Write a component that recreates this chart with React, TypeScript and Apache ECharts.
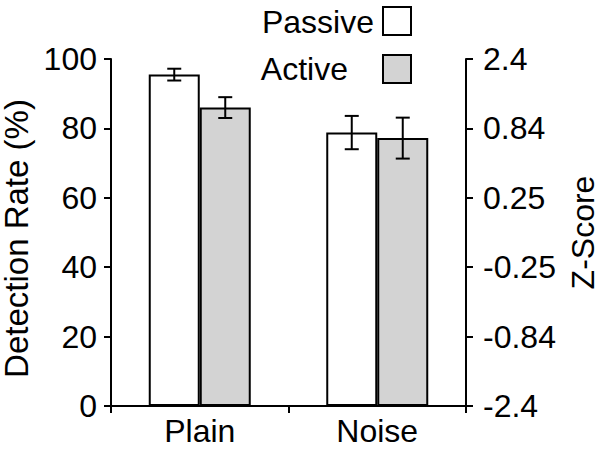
import React, { useEffect, useRef } from "react";
import * as echarts from "echarts";

const categories = ["Plain", "Noise"];
const seriesNames = ["Passive", "Active"];
const passiveValues = [95.5, 78.8];
const activeValues = [86.0, 77.2];
const passiveErrors = [1.7, 4.8];
const activeErrors = [3.0, 5.9];
const zScoreLabels = ["-2.4", "-0.84", "-0.25", "0.25", "0.84", "2.4"];

const FONT = "Liberation Sans, Arial, sans-serif";
const BAR_W = 51;
const FS = 32;

export default function App() {
  const ref = useRef<HTMLDivElement>(null);
  useEffect(() => {
    document.body.style.margin = "0";
    if (!ref.current) return;
    const chart = echarts.init(ref.current, undefined, { renderer: "svg" });

    const errData = (vals: number[], errs: number[], side: number) =>
      vals.map((v, i) => [i, v - errs[i], v + errs[i], side]);

    const renderErr = (params: any, api: any) => {
      const idx = api.value(0);
      const lo = api.value(1);
      const hi = api.value(2);
      const side = api.value(3);
      const pLo = api.coord([idx, lo]);
      const pHi = api.coord([idx, hi]);
      const x = pLo[0] + side * (BAR_W / 2);
      const cap = 7;
      const style = { stroke: "#000", lineWidth: 2 };
      return {
        type: "group",
        children: [
          { type: "line", shape: { x1: x, y1: pLo[1], x2: x, y2: pHi[1] }, style },
          { type: "line", shape: { x1: x - cap, y1: pLo[1], x2: x + cap, y2: pLo[1] }, style },
          { type: "line", shape: { x1: x - cap, y1: pHi[1], x2: x + cap, y2: pHi[1] }, style },
        ],
      };
    };

    const axisLine = { show: true, lineStyle: { color: "#000", width: 2 } };
    const axisTick = { show: true, length: 7, lineStyle: { color: "#000", width: 2 } };

    chart.setOption({
      animation: false,
      backgroundColor: "#fff",
      textStyle: { fontFamily: FONT },
      grid: {
        left: 111,
        right: 136,
        top: 59,
        bottom: 46,
        containLabel: false,
        outerBoundsMode: "none",
      },
      xAxis: {
        type: "category",
        data: categories,
        boundaryGap: true,
        axisLine,
        axisTick: { ...axisTick, alignWithLabel: false },
        axisLabel: { color: "#000", fontSize: FS, fontFamily: FONT, margin: 9 },
        splitLine: { show: false },
      },
      yAxis: [
        {
          type: "value",
          min: 0,
          max: 100,
          interval: 20,
          position: "left",
          name: "Detection Rate (%)",
          nameLocation: "middle",
          nameGap: 65,
          nameTextStyle: {
            color: "#000",
            fontSize: 33,
            fontFamily: FONT,
            padding: [0, 12, 0, 0],
          },
          axisLine,
          axisTick,
          axisLabel: { color: "#000", fontSize: FS, fontFamily: FONT, margin: 14 },
          splitLine: { show: false },
        },
        {
          type: "value",
          min: 0,
          max: 100,
          interval: 20,
          position: "right",
          name: "Z-Score",
          nameLocation: "middle",
          nameGap: 101,
          nameTextStyle: { color: "#000", fontSize: FS, fontFamily: FONT },
          axisLine,
          axisTick,
          axisLabel: {
            color: "#000",
            fontSize: FS,
            fontFamily: FONT,
            margin: 17,
            formatter: (v: number) => zScoreLabels[Math.round(v / 20)] ?? "",
          },
          splitLine: { show: false },
        },
      ],
      graphic: [
        {
          type: "text",
          x: 374,
          y: 22,
          style: {
            text: seriesNames[0],
            fontSize: FS,
            fontFamily: FONT,
            fill: "#000",
            textAlign: "right",
            textVerticalAlign: "middle",
          },
        },
        {
          type: "rect",
          x: 383,
          y: 7,
          shape: { x: 0, y: 0, width: 28, height: 28 },
          style: { fill: "#ffffff", stroke: "#000", lineWidth: 2 },
        },
        {
          type: "text",
          x: 348,
          y: 69,
          style: {
            text: seriesNames[1],
            fontSize: FS,
            fontFamily: FONT,
            fill: "#000",
            textAlign: "right",
            textVerticalAlign: "middle",
          },
        },
        {
          type: "rect",
          x: 383,
          y: 55,
          shape: { x: 0, y: 0, width: 28, height: 28 },
          style: { fill: "#d3d3d3", stroke: "#000", lineWidth: 2 },
        },
      ],
      series: [
        {
          name: seriesNames[0],
          type: "bar",
          data: passiveValues,
          barWidth: BAR_W,
          barGap: "0%",
          itemStyle: { color: "#ffffff", borderColor: "#000", borderWidth: 2 },
        },
        {
          name: seriesNames[1],
          type: "bar",
          data: activeValues,
          barWidth: BAR_W,
          barGap: "0%",
          itemStyle: { color: "#d3d3d3", borderColor: "#000", borderWidth: 2 },
        },
        {
          type: "custom",
          renderItem: renderErr,
          data: errData(passiveValues, passiveErrors, -1),
          z: 10,
        },
        {
          type: "custom",
          renderItem: renderErr,
          data: errData(activeValues, activeErrors, 1),
          z: 10,
        },
      ],
    });
    return () => chart.dispose();
  }, []);
  return <div ref={ref} style={{ width: 602, height: 452 }} />;
}
